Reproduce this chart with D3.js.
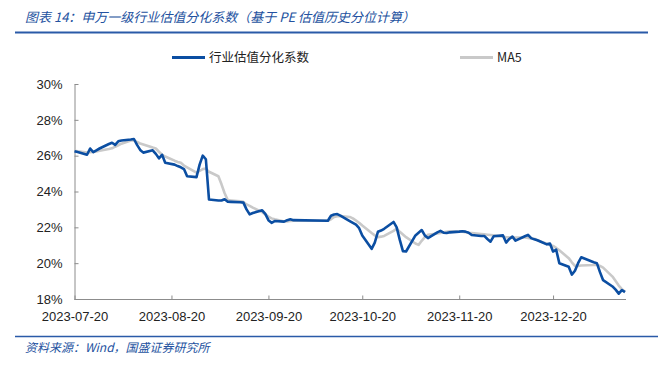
<!DOCTYPE html>
<html>
<head>
<meta charset="utf-8">
<script src="https://cdn.jsdelivr.net/npm/d3@7"></script>
<style>
  html, body { margin: 0; padding: 0; background: #fff; }
  svg { display: block; }
  .axis text { font-family: "Liberation Sans", Arial, sans-serif; font-size: 13px; fill: #222; }
  .axis .domain, .axis .tick line { stroke: #8c8c8c; }
</style>
</head>
<body>
<div id="chart"></div>
<script>
const TITLE = '图表 14：申万一级行业估值分化系数（基于 PE 估值历史分位计算）';
const SOURCE = '资料来源：Wind，国盛证券研究所';
const SERIES_NAMES = ['行业估值分化系数', 'MA5'];

// trading days (A-share), 2023-07-20 .. 2024-01-12
const dates = [
  '2023-07-20','2023-07-21','2023-07-24','2023-07-25','2023-07-26','2023-07-27','2023-07-28','2023-07-31',
  '2023-08-01','2023-08-02','2023-08-03','2023-08-04','2023-08-07','2023-08-08','2023-08-09','2023-08-10',
  '2023-08-11','2023-08-14','2023-08-15','2023-08-16','2023-08-17','2023-08-18','2023-08-21','2023-08-22',
  '2023-08-23','2023-08-24','2023-08-25','2023-08-28','2023-08-29','2023-08-30','2023-08-31',
  '2023-09-01','2023-09-04','2023-09-05','2023-09-06','2023-09-07','2023-09-08','2023-09-11','2023-09-12',
  '2023-09-13','2023-09-14','2023-09-15','2023-09-18','2023-09-19','2023-09-20','2023-09-21','2023-09-22',
  '2023-09-25','2023-09-26','2023-09-27','2023-09-28',
  '2023-10-09','2023-10-10','2023-10-11','2023-10-12','2023-10-13','2023-10-16','2023-10-17','2023-10-18',
  '2023-10-19','2023-10-20','2023-10-23','2023-10-24','2023-10-25','2023-10-26','2023-10-27','2023-10-30',
  '2023-10-31',
  '2023-11-01','2023-11-02','2023-11-03','2023-11-06','2023-11-07','2023-11-08','2023-11-09','2023-11-10',
  '2023-11-13','2023-11-14','2023-11-15','2023-11-16','2023-11-17','2023-11-20','2023-11-21','2023-11-22',
  '2023-11-23','2023-11-24','2023-11-27','2023-11-28','2023-11-29','2023-11-30',
  '2023-12-01','2023-12-04','2023-12-05','2023-12-06','2023-12-07','2023-12-08','2023-12-11','2023-12-12',
  '2023-12-13','2023-12-14','2023-12-15','2023-12-18','2023-12-19','2023-12-20','2023-12-21','2023-12-22',
  '2023-12-25','2023-12-26','2023-12-27','2023-12-28','2023-12-29',
  '2024-01-02','2024-01-03','2024-01-04','2024-01-05','2024-01-08','2024-01-09','2024-01-10','2024-01-11',
  '2024-01-12'
];

// 行业估值分化系数 (%)
const dispersion = [
  26.25, 26.20, 26.05, 26.40, 26.20, 26.30, 26.40, 26.65,
  26.72, 26.60, 26.80, 26.85, 26.90, 26.93, 26.60, 26.32,
  26.17, 26.30, 26.10, 25.85, 26.05, 25.60, 25.50, 25.42,
  25.35, 25.25, 24.85, 24.80, 25.50, 26.00, 25.80,
  23.55, 23.50, 23.50, 23.57, 23.43, 23.42, 23.40, 23.38,
  23.00, 22.72, 22.80, 22.95, 22.75, 22.40, 22.25, 22.35,
  22.32, 22.40, 22.45, 22.40,
  22.37, 22.65, 22.72, 22.74, 22.65, 22.35, 22.25, 22.15,
  21.95, 21.55, 20.80, 21.15, 21.75, 21.82, 21.92, 22.30,
  22.00,
  21.30, 20.67, 20.65, 21.55, 21.70, 21.85, 21.55, 21.40,
  21.72, 21.80, 21.70, 21.68, 21.72, 21.76, 21.78, 21.76,
  21.70, 21.57, 21.52, 21.52, 21.35, 21.20,
  21.50, 21.55, 21.15, 21.35, 21.48, 21.26, 21.50, 21.58,
  21.40, 21.33, 21.28, 21.05, 21.10, 20.65, 20.75, 20.00,
  19.80, 19.36, 19.58, 20.00, 20.33,
  20.05, 20.00, 19.50, 19.05, 18.70, 18.52, 18.30, 18.50,
  18.38
];

// MA5 (%)
const ma5 = [
  26.27, 26.24, 26.17, 26.19, 26.21, 26.23, 26.27, 26.37,
  26.41, 26.50, 26.58, 26.67, 26.85, 26.85, 26.76, 26.68,
  26.62, 26.45, 26.40, 26.22, 26.05, 25.95, 25.72, 25.65,
  25.60, 25.45, 25.35, 25.05, 25.15, 25.25, 25.28,
  25.10, 24.85, 24.40, 23.90, 23.52, 23.50, 23.45, 23.42,
  23.28, 23.20, 23.10, 22.85, 22.72, 22.60, 22.50, 22.45,
  22.33, 22.33, 22.35, 22.37,
  22.37, 22.45, 22.58, 22.62, 22.63, 22.58, 22.50, 22.38,
  22.25, 22.10, 21.68, 21.55, 21.45, 21.48, 21.52, 21.80,
  21.92,
  21.75, 21.60, 21.45, 21.10, 21.02, 21.25, 21.45, 21.58,
  21.66, 21.68, 21.72, 21.75, 21.78, 21.77, 21.75, 21.73,
  21.70, 21.68, 21.63, 21.61, 21.59, 21.57,
  21.55, 21.47, 21.45, 21.44, 21.43, 21.43, 21.43, 21.41,
  21.38, 21.36, 21.28, 21.08, 21.02, 20.96, 20.85, 20.72,
  20.28, 20.05, 19.85, 19.85, 19.87,
  19.90, 19.92, 19.85, 19.75, 19.25, 19.00, 18.75, 18.55,
  18.40
];

const xTickDates = ['2023-07-20','2023-08-20','2023-09-20','2023-10-20','2023-11-20','2023-12-20'];
const yTicks = [18, 20, 22, 24, 26, 28, 30];

const W = 658, H = 367;
const BLUE = '#0b4ea2';
const GRAY = '#c9c9c9';
const TEXT_BLUE = '#2452a0';
const parse = d3.timeParse('%Y-%m-%d');

const svg = d3.select('#chart').append('svg')
  .attr('width', W).attr('height', H);

// title + rule
svg.append('text')
  .attr('x', 25).attr('y', 22)
  .attr('font-family', '"Noto Sans CJK SC", sans-serif')
  .attr('font-size', 13)
  .attr('font-style', 'italic')
  .attr('fill', TEXT_BLUE)
  .text(TITLE);
svg.append('line')
  .attr('x1', 15).attr('x2', 648).attr('y1', 32.5).attr('y2', 32.5)
  .attr('stroke', '#2a5aa8').attr('stroke-width', 2);

const x = d3.scaleTime()
  .domain([parse(dates[0]), parse(dates[dates.length - 1])])
  .range([74.5, 625]);
const y = d3.scaleLinear()
  .domain([18, 30])
  .range([299, 84]);

// axes
svg.append('g')
  .attr('class', 'axis')
  .attr('transform', 'translate(74.5,0)')
  .call(d3.axisLeft(y).tickValues(yTicks).tickFormat(d => d + '%').tickSizeInner(-4).tickSizeOuter(0).tickPadding(12))
  .call(g => g.selectAll('.tick line').attr('transform', 'translate(0,0)'));

svg.append('g')
  .attr('class', 'axis')
  .attr('transform', 'translate(0,299.5)')
  .call(d3.axisBottom(x).tickValues(xTickDates.map(parse)).tickFormat(d3.timeFormat('%Y-%m-%d'))
    .tickSizeInner(-4).tickSizeOuter(0).tickPadding(12))
  .call(g => g.select('.domain').attr('d', 'M74.5,0H626'));

const rows = dates.map((d, i) => ({ date: parse(d), v: dispersion[i], m: ma5[i] }));

const lineM = d3.line().x(d => x(d.date)).y(d => y(d.m));
const lineV = d3.line().x(d => x(d.date)).y(d => y(d.v));

svg.append('path')
  .datum(rows)
  .attr('d', lineM)
  .attr('fill', 'none')
  .attr('stroke', GRAY)
  .attr('stroke-width', 2.6)
  .attr('stroke-linejoin', 'round');

svg.append('path')
  .datum(rows)
  .attr('d', lineV)
  .attr('fill', 'none')
  .attr('stroke', BLUE)
  .attr('stroke-width', 2.6)
  .attr('stroke-linejoin', 'round');

// legend
const legend = [
  { name: SERIES_NAMES[0], color: BLUE, x: 172 },
  { name: SERIES_NAMES[1], color: GRAY, x: 460 }
];
legend.forEach(l => {
  svg.append('line')
    .attr('x1', l.x).attr('x2', l.x + 33).attr('y1', 57.5).attr('y2', 57.5)
    .attr('stroke', l.color).attr('stroke-width', 3);
  svg.append('text')
    .attr('x', l.x + 37).attr('y', 62)
    .attr('font-family', '"Noto Sans CJK SC", "Liberation Sans", sans-serif')
    .attr('font-size', 12.5)
    .attr('fill', '#222')
    .text(l.name);
});

// source line + note
svg.append('line')
  .attr('x1', 15).attr('x2', 658).attr('y1', 336.5).attr('y2', 336.5)
  .attr('stroke', '#2a5aa8').attr('stroke-width', 1.5);
svg.append('text')
  .attr('x', 25).attr('y', 352)
  .attr('font-family', '"Noto Sans CJK SC", sans-serif')
  .attr('font-size', 12)
  .attr('font-style', 'italic')
  .attr('fill', TEXT_BLUE)
  .text(SOURCE);
</script>
</body>
</html>
